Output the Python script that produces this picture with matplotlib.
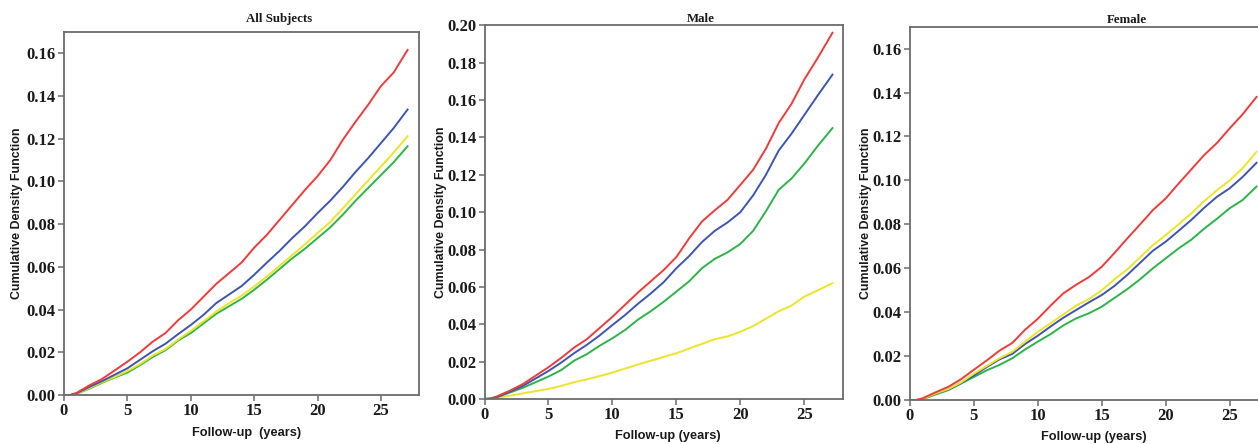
import matplotlib
matplotlib.use("Agg")
import matplotlib.pyplot as plt
from matplotlib.ticker import FormatStrFormatter

# ---------------- data ----------------
years = [0, 0.5, 1, 2, 3, 4, 5, 6, 7, 8, 9, 10, 11, 12, 13, 14, 15, 16, 17,
         18, 19, 20, 21, 22, 23, 24, 25, 26, 27.1]
years_m = years[:-1] + [27.2]

all_red = [0, 0, 0.001, 0.0045, 0.0075, 0.0115, 0.0156, 0.020, 0.025, 0.029, 0.035,
           0.040, 0.046, 0.052, 0.057, 0.062, 0.069, 0.075, 0.082, 0.089, 0.096,
           0.1025, 0.110, 0.1196, 0.128, 0.136, 0.1447, 0.151, 0.1616]
all_blue = [0, 0, 0.0008, 0.0038, 0.0065, 0.0095, 0.0125, 0.0165, 0.0205, 0.024,
            0.0285, 0.0328, 0.0375, 0.043, 0.047, 0.051, 0.0563, 0.062, 0.0675,
            0.0735, 0.079, 0.0852, 0.091, 0.0975, 0.1045, 0.111, 0.118, 0.125, 0.1337]
all_yellow = [0, 0, 0.0006, 0.0033, 0.006, 0.0085, 0.0112, 0.0145, 0.0185, 0.0215,
              0.026, 0.030, 0.0345, 0.039, 0.043, 0.0465, 0.0508, 0.0555, 0.0605,
              0.0655, 0.0705, 0.0759, 0.081, 0.0875, 0.094, 0.1005, 0.107, 0.1135, 0.1212]
all_green = [0, 0, 0.0005, 0.003, 0.0057, 0.0082, 0.0105, 0.014, 0.0178, 0.021,
             0.0255, 0.029, 0.0335, 0.038, 0.0415, 0.045, 0.0493, 0.054, 0.059,
             0.064, 0.0685, 0.0735, 0.0785, 0.0845, 0.091, 0.097, 0.103, 0.109, 0.1165]

male_red = [0, 0.0003, 0.0015, 0.0045, 0.008, 0.0125, 0.017, 0.022, 0.0275, 0.032,
            0.038, 0.044, 0.0505, 0.057, 0.063, 0.069, 0.076, 0.086, 0.095, 0.101,
            0.1066, 0.1146, 0.1227, 0.134, 0.1477, 0.158, 0.171, 0.182, 0.196]
male_blue = [0, 0.0002, 0.0012, 0.004, 0.007, 0.011, 0.015, 0.0195, 0.0245, 0.029,
             0.034, 0.0396, 0.045, 0.051, 0.0565, 0.0625, 0.070, 0.0765, 0.084, 0.090,
             0.0945, 0.100, 0.109, 0.120, 0.133, 0.142, 0.152, 0.162, 0.1736]
male_green = [0, 0.0002, 0.001, 0.0035, 0.006, 0.009, 0.012, 0.0155, 0.0205, 0.024,
              0.0285, 0.0325, 0.037, 0.0425, 0.047, 0.052, 0.0575, 0.063, 0.070,
              0.075, 0.0785, 0.083, 0.090, 0.1005, 0.112, 0.118, 0.126, 0.135, 0.145]
male_yellow = [0, 0.0001, 0.0006, 0.0018, 0.003, 0.0042, 0.0054, 0.007, 0.009, 0.0105,
               0.0123, 0.0141, 0.0163, 0.0185, 0.0205, 0.0225, 0.0245, 0.027, 0.0295,
               0.032, 0.0335, 0.036, 0.039, 0.043, 0.047, 0.050, 0.0548, 0.058, 0.062]

fem_red = [0, 0, 0.0008, 0.0035, 0.006, 0.0095, 0.0138, 0.018, 0.0225, 0.026, 0.032,
           0.037, 0.043, 0.0486, 0.0525, 0.056, 0.0607, 0.067, 0.0736, 0.080, 0.0865,
           0.0918, 0.0985, 0.105, 0.1115, 0.117, 0.1237, 0.130, 0.138]
fem_yellow = [0, 0, 0.0005, 0.003, 0.005, 0.008, 0.012, 0.0155, 0.019, 0.022, 0.0265,
              0.0311, 0.035, 0.039, 0.043, 0.046, 0.050, 0.055, 0.0595, 0.065, 0.0705,
              0.0751, 0.080, 0.085, 0.0905, 0.0955, 0.100, 0.1055, 0.113]
fem_blue = [0, 0, 0.0005, 0.003, 0.0048, 0.0078, 0.0112, 0.015, 0.0185, 0.021, 0.0255,
            0.0293, 0.0335, 0.0375, 0.041, 0.0445, 0.0478, 0.052, 0.057, 0.0625, 0.068,
            0.0721, 0.077, 0.082, 0.0875, 0.0925, 0.0964, 0.1015, 0.108]
fem_green = [0, 0, 0.0004, 0.0025, 0.0045, 0.0075, 0.0105, 0.0135, 0.016, 0.019, 0.023,
             0.0266, 0.030, 0.034, 0.0372, 0.0395, 0.0425, 0.0465, 0.0505, 0.055, 0.060,
             0.0645, 0.069, 0.073, 0.078, 0.0825, 0.0873, 0.091, 0.0972]

titles = ["All Subjects", "Male", "Female"]
xticks = [0, 5, 10, 15, 20, 25]
yticks_all = [0.00, 0.02, 0.04, 0.06, 0.08, 0.10, 0.12, 0.14, 0.16]
yticks_male = [0.00, 0.02, 0.04, 0.06, 0.08, 0.10, 0.12, 0.14, 0.16, 0.18, 0.20]
ylabel = "Cumulative Density Function"
xlabels = ["Follow-up  (years)", "Follow-up (years)", "Follow-up (years)"]

# ---------------- style ----------------
RED, BLUE, GREEN, YELLOW = "#ee3b3b", "#3d55b0", "#2db34a", "#ece42a"
SPINE = "#6b6b6b"

W, H = 1258, 444
fig = plt.figure(figsize=(W / 100, H / 100), dpi=100)

# axes boxes in pixels: left, top, right, bottom
boxes = [(64, 32, 419, 395), (484.5, 25.3, 842.7, 399), (910, 26.7, 1268, 400)]
ylims = [0.17, 0.20, 0.17]
ytick_sets = [yticks_all, yticks_male, yticks_all]
series = [
    (years, [(all_green, GREEN), (all_yellow, YELLOW), (all_blue, BLUE), (all_red, RED)]),
    (years_m, [(male_yellow, YELLOW), (male_green, GREEN), (male_blue, BLUE), (male_red, RED)]),
    (years, [(fem_green, GREEN), (fem_blue, BLUE), (fem_yellow, YELLOW), (fem_red, RED)]),
]
ylab_x = [17, 440.7, 865.7]
xlab_x = [247, 667.7, 1093.7]
xlab_y = [433, 436, 436.7]
title_y = [19, 18.7, 20]

serif = "Liberation Serif"
sans = "Liberation Sans"

for i in range(3):
    l, t, r, b = boxes[i]
    ax = fig.add_axes([l / W, (H - b) / H, (r - l) / W, (b - t) / H])
    xs, lines = series[i]
    for ys, c in lines:
        ax.plot(xs, ys, color=c, lw=1.4, solid_joinstyle="round")
    ax.set_xlim(0, 28)
    ax.set_ylim(0, ylims[i])
    ax.set_xticks(xticks)
    ax.set_yticks(ytick_sets[i])
    ax.yaxis.set_major_formatter(FormatStrFormatter("%.2f"))
    for s in ax.spines.values():
        s.set_color(SPINE)
        s.set_linewidth(1.3)
    ax.tick_params(direction="out", length=4, width=1.1, color=SPINE, pad=2)
    for lab in ax.get_xticklabels() + ax.get_yticklabels():
        lab.set_fontfamily(serif)
        lab.set_fontweight("bold")
        lab.set_fontsize(12)
        lab.set_color("#1a1a1a")
    ax.set_ylabel(ylabel, fontfamily=sans, fontweight="bold", fontsize=8.9,
                  va="center", color="#1a1a1a")
    ax.yaxis.set_label_coords((ylab_x[i] - l) / (r - l), 0.5)
    ax.set_xlabel(xlabels[i], fontfamily=sans, fontweight="bold", fontsize=9.2,
                  va="center", color="#1a1a1a")
    ax.xaxis.set_label_coords((xlab_x[i] - l) / (r - l), -(xlab_y[i] - b) / (b - t))
    ax.text(0.605, 1 + (t - title_y[i]) / (b - t), titles[i], transform=ax.transAxes,
            ha="center", va="center", fontfamily=serif, fontweight="bold",
            fontsize=9.3, color="#1a1a1a")

fig.savefig("out.png", dpi=100)
